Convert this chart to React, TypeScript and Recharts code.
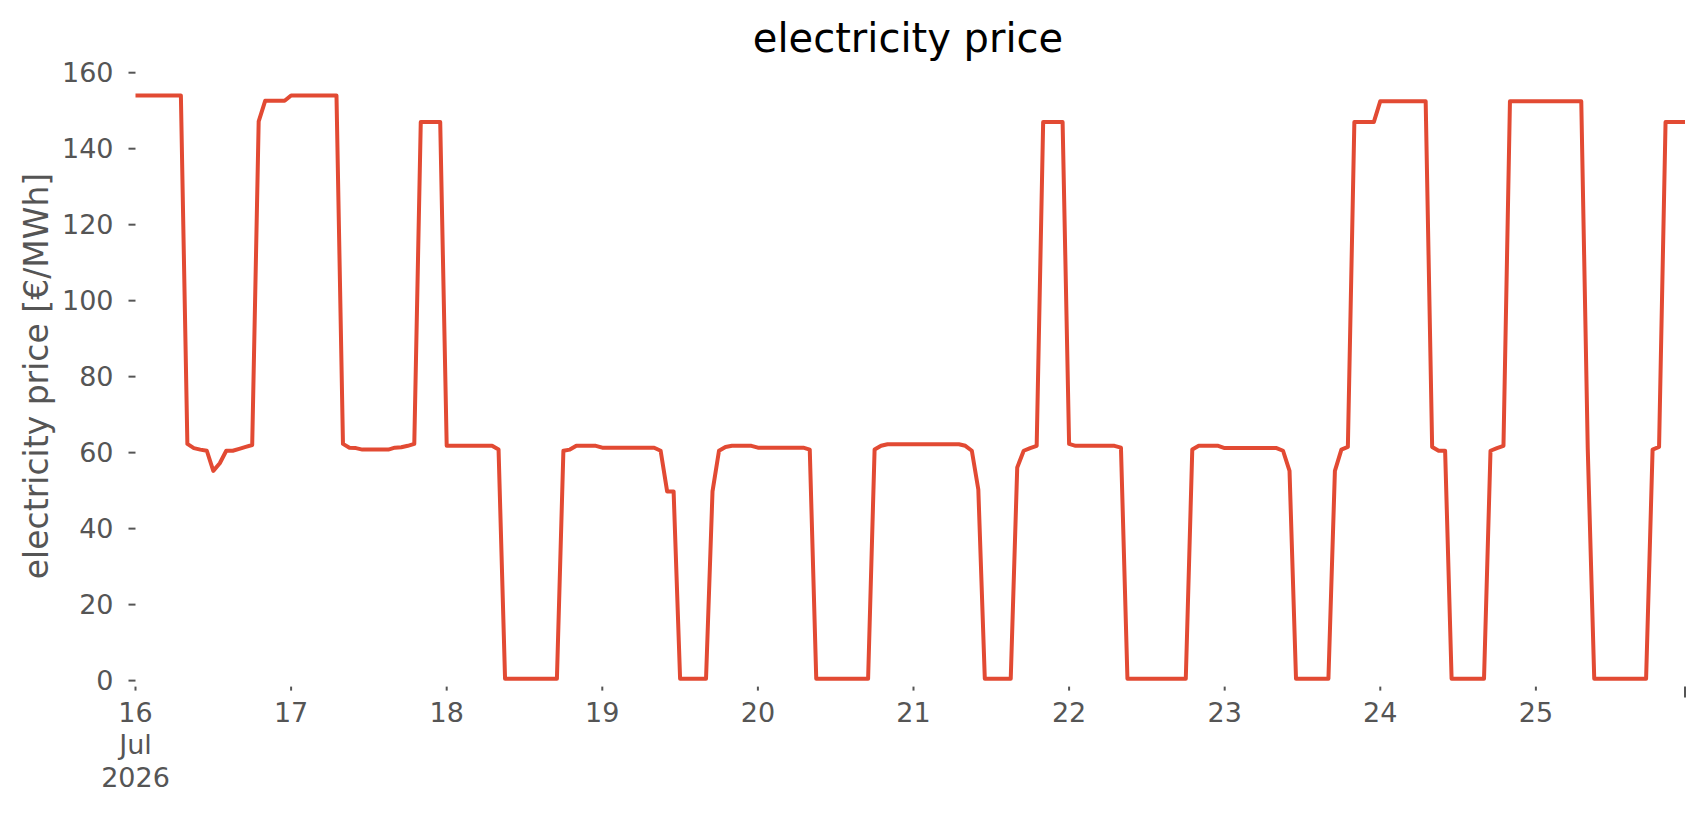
import React from "react";
import { Line, LineChart, XAxis, YAxis } from "recharts";

// hourly prices, one array per day (16–25 Jul 2026)
const price16 = [154.0, 154.0, 154.0, 154.0, 154.0, 154.0, 154.0, 154.0, 62.3, 61.2, 60.8, 60.5, 55.2, 57.2, 60.5, 60.5, 61.0, 61.5, 62.0, 147.2, 152.6, 152.6, 152.6, 152.6];
const price17 = [154.0, 154.0, 154.0, 154.0, 154.0, 154.0, 154.0, 154.0, 62.3, 61.3, 61.2, 60.8, 60.8, 60.8, 60.8, 60.8, 61.3, 61.4, 61.8, 62.3, 147.0, 147.0, 147.0, 147.0];
const price18 = [61.8, 61.8, 61.8, 61.8, 61.8, 61.8, 61.8, 61.8, 60.8, 0.5, 0.5, 0.5, 0.5, 0.5, 0.5, 0.5, 0.5, 0.5, 60.5, 60.8, 61.8, 61.8, 61.8, 61.8];
const price19 = [61.3, 61.3, 61.3, 61.3, 61.3, 61.3, 61.3, 61.3, 61.3, 60.5, 49.8, 49.8, 0.5, 0.5, 0.5, 0.5, 0.5, 49.8, 60.5, 61.5, 61.8, 61.8, 61.8, 61.8];
const price20 = [61.3, 61.3, 61.3, 61.3, 61.3, 61.3, 61.3, 61.3, 60.8, 0.5, 0.5, 0.5, 0.5, 0.5, 0.5, 0.5, 0.5, 0.5, 60.8, 61.8, 62.2, 62.2, 62.2, 62.2];
const price21 = [62.2, 62.2, 62.2, 62.2, 62.2, 62.2, 62.2, 62.2, 61.8, 60.5, 50.3, 0.5, 0.5, 0.5, 0.5, 0.5, 56.1, 60.5, 61.2, 61.8, 147.0, 147.0, 147.0, 147.0];
const price22 = [62.3, 61.8, 61.8, 61.8, 61.8, 61.8, 61.8, 61.8, 61.3, 0.5, 0.5, 0.5, 0.5, 0.5, 0.5, 0.5, 0.5, 0.5, 0.5, 60.8, 61.8, 61.8, 61.8, 61.8];
const price23 = [61.2, 61.2, 61.2, 61.2, 61.2, 61.2, 61.2, 61.2, 61.2, 60.5, 55.2, 0.5, 0.5, 0.5, 0.5, 0.5, 0.5, 55.2, 60.8, 61.5, 147.0, 147.0, 147.0, 147.0];
const price24 = [152.5, 152.5, 152.5, 152.5, 152.5, 152.5, 152.5, 152.5, 61.5, 60.5, 60.5, 0.5, 0.5, 0.5, 0.5, 0.5, 0.5, 60.5, 61.2, 61.8, 152.5, 152.5, 152.5, 152.5];
const price25 = [152.5, 152.5, 152.5, 152.5, 152.5, 152.5, 152.5, 152.5, 61.0, 0.5, 0.5, 0.5, 0.5, 0.5, 0.5, 0.5, 0.5, 0.5, 60.8, 61.5, 147.0, 147.0, 147.0, 147.0];

const DAY_LABELS = ["16", "17", "18", "19", "20", "21", "22", "23", "24", "25"];
const MONTH_LABEL = "Jul";
const YEAR_LABEL = "2026";
const X_TICK_HOURS = [0, 24, 48, 72, 96, 120, 144, 168, 192, 216, 239];
const Y_TICKS = [0, 20, 40, 60, 80, 100, 120, 140, 160];

const prices = [
  ...price16, ...price17, ...price18, ...price19, ...price20,
  ...price21, ...price22, ...price23, ...price24, ...price25,
];
const data = prices.map((price, h) => ({ h, price }));

const FONT = "DejaVu Sans, sans-serif";
const GREY = "#555555";
const RED = "#E24A33";

function XTick(props: any) {
  const { x, y, payload } = props;
  const v = payload.value as number;
  const isEnd = v === 239;
  const lines = v === 0
    ? [DAY_LABELS[0], MONTH_LABEL, YEAR_LABEL]
    : isEnd ? [] : [DAY_LABELS[v / 24]];
  return (
    <g>
      <line x1={x} x2={x} y1={y + 6} y2={y + (isEnd ? 17 : 10)} stroke={GREY} strokeWidth={2} />
      <text x={x} y={y + 41} textAnchor="middle" fill={GREY} fontSize={27} fontFamily={FONT}>
        {lines.map((t, i) => (
          <tspan key={i} x={x} dy={i === 0 ? 0 : 32.6}>{t}</tspan>
        ))}
      </text>
    </g>
  );
}

function YTick(props: any) {
  const { x, y, payload } = props;
  return (
    <g>
      <line x1={x - 7} x2={x} y1={y} y2={y} stroke={GREY} strokeWidth={2} />
      <text x={x - 22} y={y} dy="0.35em" textAnchor="end" fill={GREY} fontSize={27} fontFamily={FONT}>
        {payload.value}
      </text>
    </g>
  );
}

export default function App() {
  return (
    <div style={{ position: "relative", width: 1706, height: 815, background: "#fff" }}>
      <style>{`body{margin:0}`}</style>
      <div
        style={{
          position: "absolute", left: 908, top: 38, transform: "translate(-50%,-50%)",
          fontFamily: FONT, fontSize: 40, color: "#000", whiteSpace: "nowrap",
        }}
      >
        electricity price
      </div>
      <div
        style={{
          position: "absolute", left: 36, top: 376, transform: "translate(-50%,-50%) rotate(-90deg)",
          fontFamily: FONT, fontSize: 33, color: GREY, whiteSpace: "nowrap",
        }}
      >
        electricity price [€/MWh]
      </div>
      <LineChart
        width={1706}
        height={815}
        data={data}
        margin={{ top: 72.7, right: 21, bottom: 0, left: 0 }}
      >
        <XAxis
          type="number"
          dataKey="h"
          domain={[0, 239]}
          ticks={X_TICK_HOURS}
          interval={0}
          axisLine={false}
          tickLine={false}
          tickSize={0}
          tickMargin={0}
          height={134.4}
          tick={<XTick />}
        />
        <YAxis
          domain={[0, 160]}
          ticks={Y_TICKS}
          interval={0}
          axisLine={false}
          tickLine={false}
          tickSize={0}
          tickMargin={0}
          width={135.5}
          tick={<YTick />}
        />
        <Line
          type="linear"
          dataKey="price"
          stroke={RED}
          strokeWidth={4}
          strokeLinejoin="round"
          dot={false}
          activeDot={false}
          isAnimationActive={false}
        />
      </LineChart>
    </div>
  );
}
